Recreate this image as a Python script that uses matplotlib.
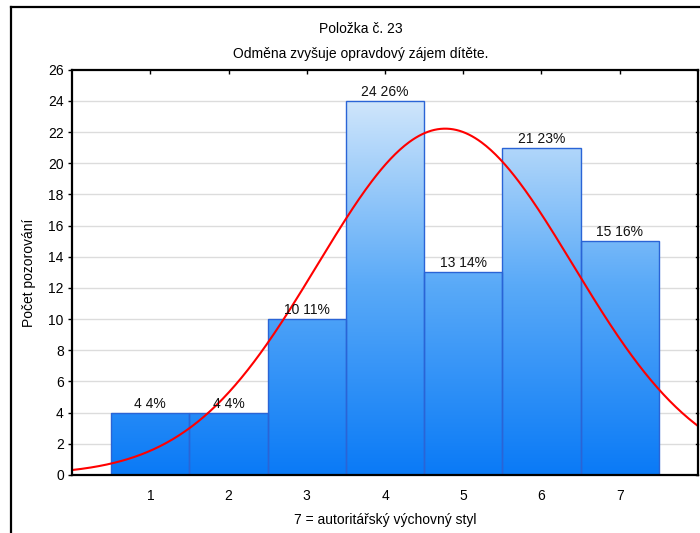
import numpy as np
import matplotlib
matplotlib.use("Agg")
import matplotlib.pyplot as plt
from matplotlib.colors import LinearSegmentedColormap
from matplotlib.lines import Line2D

plt.rcParams['font.family'] = ['Liberation Sans', 'DejaVu Sans']

# Histogram data
categories = [1, 2, 3, 4, 5, 6, 7]
counts = [4, 4, 10, 24, 13, 21, 15]
percent_labels = ["4%", "4%", "11%", "26%", "14%", "23%", "16%"]
y_ticks = list(range(0, 27, 2))

title_line1 = "Položka č. 23"
title_line2 = "Odměna zvyšuje opravdový zájem dítěte."
x_label = "7 = autoritářský výchovný styl"
y_label = "Počet pozorování"

fig = plt.figure(figsize=(7.0, 5.33), dpi=100)
ax = fig.add_axes([0.103, 0.109, 0.894, 0.760])

xs = np.array(categories, dtype=float)
ys = np.array(counts, dtype=float)
n = ys.sum()

# Vertical gradient shared by all bars (dark blue at 0, pale near the top)
cmap = LinearSegmentedColormap.from_list(
    "bars", [(0.0, "#0a7af6"), (0.5, "#5aaaf8"), (1.0, "#d4e8fb")])
ymax_grad = 24.5
grad = np.linspace(0, 1, 256).reshape(-1, 1)

for yt in y_ticks[1:-1]:
    ax.axhline(yt, color="#dcdcdc", lw=1.0, zorder=0)

for x, c, p in zip(xs, ys, percent_labels):
    bar = ax.bar(x, c, width=1.0, color="none", edgecolor="#2a64d6",
                 linewidth=1.0, zorder=3)[0]
    img = ax.imshow(grad, cmap=cmap, origin="lower", aspect="auto",
                    extent=(x - 0.5, x + 0.5, 0, ymax_grad), zorder=2,
                    interpolation="bilinear")
    img.set_clip_path(bar)
    ax.text(x, c + 0.12, f"{int(c)} {p}", ha="center", va="bottom",
            fontsize=10, color="#111111", zorder=5)

ax.set_xlim(0, 8)
ax.set_ylim(0, 26)

# Fitted normal curve scaled to the counts
mean = (xs * ys).sum() / n
sd = np.sqrt(((xs - mean) ** 2 * ys).sum() / (n - 1))
xc = np.linspace(0, 8, 400)
yc = n / (sd * np.sqrt(2 * np.pi)) * np.exp(-0.5 * ((xc - mean) / sd) ** 2)
ax.plot(xc, yc, color="#ff0000", lw=1.5, zorder=4, clip_on=True)

ax.set_xticks(categories)
ax.set_yticks(y_ticks)
ax.tick_params(axis="x", direction="in", length=3, width=1, top=True,
               labelsize=10, pad=10)
ax.tick_params(axis="y", direction="out", length=3, width=1, right=False,
               labelsize=10, pad=3)
for yt in y_ticks:
    ax.plot([8, 7.97], [yt, yt], color="black", lw=1, clip_on=False, zorder=6)
for s in ax.spines.values():
    s.set_linewidth(1.6)
    s.set_zorder(6)

ax.set_xlabel(x_label, fontsize=10, labelpad=7)
ax.set_ylabel(y_label, fontsize=10, labelpad=9)

fig.text(0.515, 0.946, title_line1, ha="center", va="center", fontsize=10)
fig.text(0.515, 0.899, title_line2, ha="center", va="center", fontsize=10)

# Outer frame lines
fig.add_artist(Line2D([11 / 700, 11 / 700], [0, 1 - 7 / 533],
                      transform=fig.transFigure, color="black", lw=1.6))
fig.add_artist(Line2D([11 / 700, 1], [1 - 7 / 533, 1 - 7 / 533],
                      transform=fig.transFigure, color="black", lw=1.6))

fig.savefig("out.png", dpi=100)
